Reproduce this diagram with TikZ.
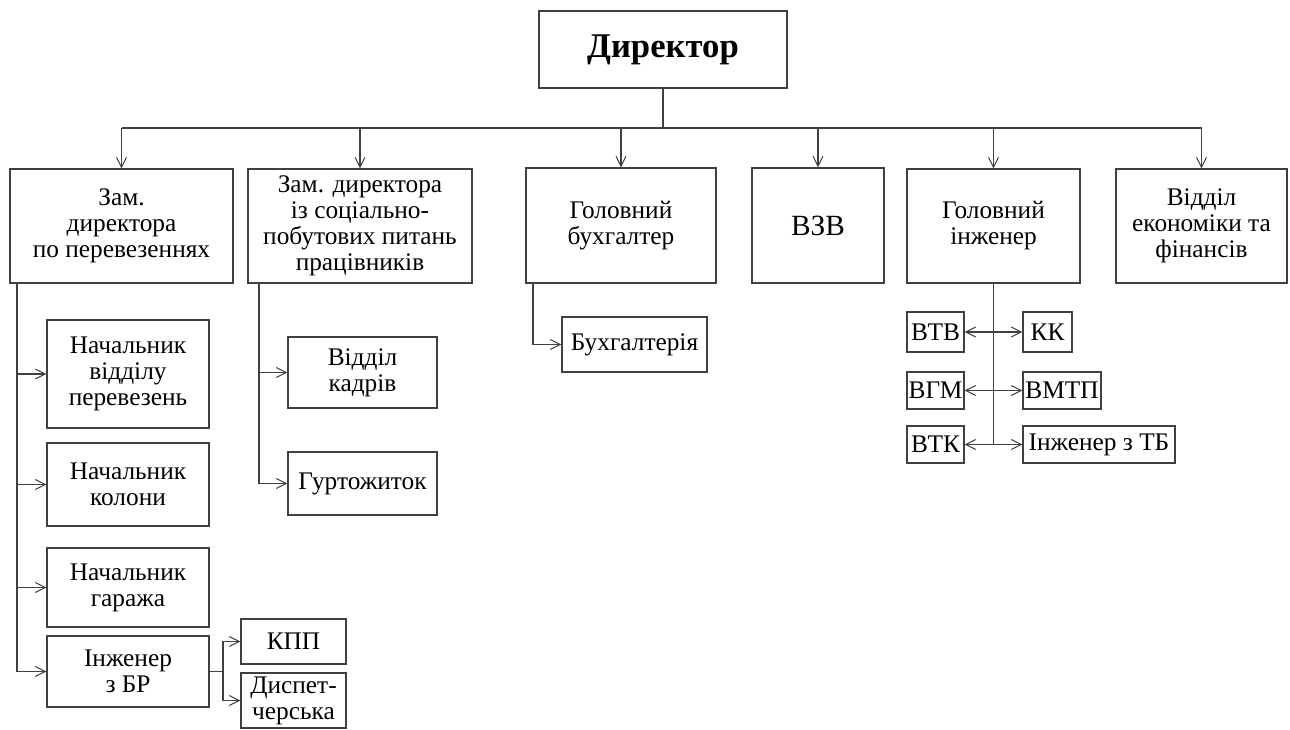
\documentclass[tikz,border=0pt]{standalone}
\usepackage{fontspec}
\setmainfont{Liberation Serif}
\usetikzlibrary{arrows.meta,positioning}

\begin{document}
\begin{tikzpicture}[x=0.75pt,y=-0.75pt,
  every node/.style={font=\fontsize{19}{19.5}\selectfont},
  unitbox/.style 2 args={draw=black!75,line width=0.8pt,align=center,inner sep=1pt,minimum width=#1*0.75pt,minimum height=#2*0.75pt},
  link/.style={draw=black!75,line width=0.8pt},
  >={Straight Barb[length=7.5pt,width=7.5pt]}]
\useasboundingbox (0,0) rectangle (1290,729);
% top level
\node[unitbox={248}{77},font=\fontsize{26}{30}\selectfont\bfseries] (dir) at (663,49.5) {Директор};
\node[unitbox={223}{114}] (zamper) at (121.5,226) {Зам.\\директора\\по перевезеннях};
\node[unitbox={224}{114}] (zamsoc) at (360,226) {Зам. директора\\із соціально-\\побутових питань\\працівників};
\node[unitbox={190}{115}] (golbuh) at (621,225.5) {Головний\\бухгалтер};
\node[unitbox={132}{115},font=\fontsize{22}{24}\selectfont] (vzv) at (818,225.5) {ВЗВ};
\node[unitbox={173}{114}] (golinzh) at (993.5,226) {Головний\\інженер};
\node[unitbox={171}{114}] (viddek) at (1201.5,226) {Відділ\\економіки та\\фінансів};
\coordinate (busL) at (121.5,128); \coordinate (busR) at (1201.5,128);
\draw[link] (dir.south) -- (dir.south |- busL); \draw[link] (busL) -- (busR);
\foreach \n in {zamper,zamsoc,golbuh,vzv,golinzh,viddek}
  \draw[link,->] (\n.north |- busL) -- (\n.north);
% transport deputy
\node[unitbox={162}{108}] (nvp) at (128,374) {Начальник\\відділу\\перевезень};
\node[unitbox={162}{83}] (nkol) at (128,484.5) {Начальник\\колони};
\node[unitbox={162}{79}] (nhar) at (128,587.5) {Начальник\\гаража};
\node[unitbox={162}{71}] (inzbr) at (128,671.5) {Інженер\\з БР};
\node[unitbox={105}{45}] (kpp) at (293.5,641.5) {КПП};
\node[unitbox={105}{55}] (disp) at (293.5,700.5) {Диспет-\\черська};
\coordinate (lt) at (17,283);
\draw[link] (lt) -- (lt |- inzbr.west);
\foreach \n in {nvp,nkol,nhar,inzbr}
  \draw[link,->] (lt |- \n.west) -- (\n.west);
\coordinate (br) at (223,671.5);
\draw[link] (inzbr.east) -- (br);
\draw[link,->] (br) |- (kpp.west); \draw[link,->] (br) |- (disp.west);
% social deputy
\node[unitbox={149}{71}] (vk) at (362.5,372.5) {Відділ\\кадрів};
\node[unitbox={149}{63}] (gurt) at (362.5,483.5) {Гуртожиток};
\coordinate (st) at (259,283);
\draw[link] (st) -- (st |- gurt.west);
\draw[link,->] (st |- vk.west) -- (vk.west); \draw[link,->] (st |- gurt.west) -- (gurt.west);
% accountant
\node[unitbox={145}{55}] (buh) at (634.5,344.5) {Бухгалтерія};
\coordinate (bt) at (533,283);
\draw[link,->] (bt) |- (buh.west);
% engineer
\node[unitbox={57}{40}] (vtv) at (935.5,332) {ВТВ};
\node[unitbox={49}{40}] (kk) at (1047.5,332) {КК};
\node[unitbox={57}{37}] (vgm) at (935.5,390.5) {ВГМ};
\node[unitbox={78}{37}] (vmtp) at (1062,390.5) {ВМТП};
\node[unitbox={57}{37}] (vtk) at (935.5,444.5) {ВТК};
\node[unitbox={152}{37}] (intb) at (1099,444.5) {Інженер з ТБ};
\draw[link] (golinzh.south) -- (golinzh.south |- vtk.east);
\draw[link,<->] (vtv.east) -- (kk.west);
\draw[link,<->] (vgm.east) -- (vmtp.west);
\draw[link,<->] (vtk.east) -- (intb.west);
\end{tikzpicture}
\end{document}
